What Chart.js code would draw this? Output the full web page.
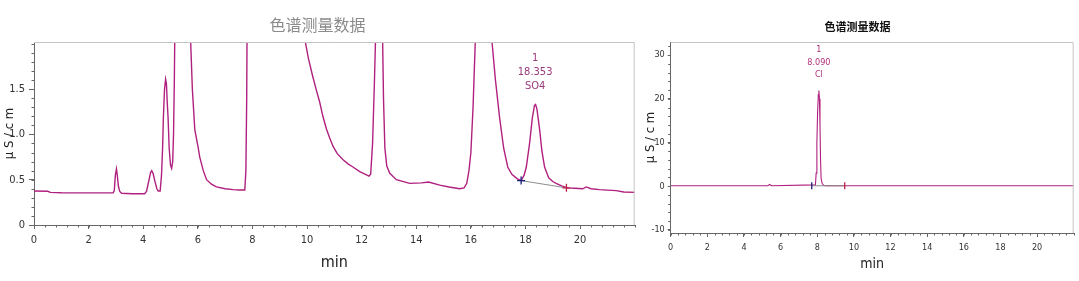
<!DOCTYPE html>
<html>
<head>
<meta charset="utf-8">
<script src="https://cdn.jsdelivr.net/npm/chart.js@4.4.1/dist/chart.umd.min.js"></script>
<style>
  html, body { margin: 0; padding: 0; background: #fff; }
  #wrap { position: relative; width: 1079px; height: 281px; overflow: hidden; }
  canvas { position: absolute; top: 0; }
  #c1 { left: 0; }
  #c2 { left: 640px; }
</style>
</head>
<body>
<div id="wrap">
  <canvas id="c1" width="640" height="281"></canvas>
  <canvas id="c2" width="439" height="281"></canvas>
</div>
<script>
// ---- data ----
const titleText = '色谱测量数据';
const xTicks = [0, 2, 4, 6, 8, 10, 12, 14, 16, 18, 20];

// left chromatogram (SO4 channel)
const leftTimes = [
  0, 0.5, 0.6, 1.0, 2.0, 2.9, 2.94, 2.98, 3.02, 3.05, 3.09, 3.14, 3.21, 3.6,
  4.05, 4.12, 4.2, 4.27, 4.31, 4.36, 4.43, 4.5, 4.55, 4.62, 4.67, 4.71, 4.74,
  4.78, 4.82, 4.85, 4.88, 4.91, 4.95, 5.0, 5.04, 5.08, 5.11, 5.14, 5.17, 5.3,
  5.5, 5.68, 5.74, 5.8, 5.89, 6.01, 6.07, 6.2, 6.32, 6.5, 6.68, 7.0, 7.29, 7.5,
  7.72, 7.76, 7.79, 7.82, 8.5, 9.5, 9.95, 10.05, 10.2, 10.33, 10.46, 10.58,
  10.71, 10.83, 10.95, 11.1, 11.32, 11.5, 11.68, 11.93, 12.1, 12.27, 12.33,
  12.4, 12.47, 12.52, 12.65, 12.76, 12.8, 12.85,
  12.92, 13.03, 13.27, 13.76, 14.2, 14.45, 14.86, 15.2, 15.59, 15.75, 15.85,
  15.93, 16.0, 16.08, 16.17, 16.45, 16.78, 16.9, 17.05, 17.2, 17.35, 17.5,
  17.7, 17.84, 17.95, 18.03, 18.15, 18.25, 18.33, 18.37, 18.42, 18.52, 18.6,
  18.7, 18.85, 19.0, 19.12, 19.35, 19.55, 19.8, 20.1, 20.22, 20.4, 20.71, 21.0,
  21.32, 21.6, 22.0
];
const leftSignal = [
  0.375, 0.372, 0.36, 0.356, 0.355, 0.355, 0.38, 0.55, 0.62, 0.55, 0.43, 0.37, 0.35, 0.345,
  0.345, 0.37, 0.48, 0.58, 0.60, 0.57, 0.48, 0.40, 0.375, 0.375, 0.55, 0.85, 1.2,
  1.5, 1.61, 1.56, 1.35, 1.19, 0.85, 0.66, 0.625, 0.7, 1.0, 1.6, 2.5, 6,
  4, 2.5, 2.0, 1.5, 1.05, 0.86, 0.75, 0.6, 0.5, 0.45, 0.42, 0.4, 0.39, 0.386,
  0.386, 0.6, 1.4, 3, 10, 4, 2.0, 1.84, 1.65, 1.5, 1.36, 1.2,
  1.06, 0.96, 0.87, 0.79, 0.72, 0.675, 0.64, 0.59, 0.565, 0.54, 0.56,
  0.9, 1.6, 2.2, 4, 2.2, 1.4, 0.85,
  0.65, 0.57, 0.5, 0.46, 0.465, 0.475, 0.44, 0.42, 0.4, 0.41, 0.46,
  0.6, 0.8, 1.3, 2.1, 5, 2.0, 1.6, 1.19, 0.85, 0.64, 0.56,
  0.51, 0.49, 0.55, 0.64, 0.9, 1.18, 1.32, 1.33, 1.28, 1.05, 0.82,
  0.64, 0.52, 0.48, 0.46, 0.43, 0.41, 0.405, 0.4, 0.42, 0.4, 0.39, 0.385,
  0.38, 0.365, 0.36
];
const leftYTicks = [0, 0.5, 1, 1.5];
const leftBaseTimes = [17.84, 19.5];
const leftBaseValues = [0.49, 0.41];
const leftPeak = { id: '1', time: '18.353', name: 'SO4', at: 18.353 };

// right chromatogram (Cl channel)
const rightTimes = [
  0, 5.3, 5.4, 5.5, 7.9, 7.94, 7.98, 8.02, 8.06, 8.09, 8.12, 8.15, 8.18, 8.21,
  8.27, 8.35, 8.45, 22
];
const rightSignal = [
  0.1, 0.1, 0.4, 0.1, 0.3, 3, 10, 17, 21, 21.9, 20, 14, 6, 1.8,
  0.6, 0.2, 0.1, 0.1
];
const rightYTicks = [-10, 0, 10, 20, 30];
const rightBaseTimes = [7.7, 9.5];
const rightBaseValues = [0.1, 0.1];
const rightPeak = { id: '1', time: '8.090', name: 'Cl', at: 8.09 };

// ---- helpers ----
const NARROW = "'Liberation Sans Narrow', 'DejaVu Sans Condensed', 'Liberation Sans', sans-serif";
const CJK = "'Noto Sans CJK SC', 'Noto Sans', sans-serif";
const TRACE = '#b0207f';

function zip(xs, ys) {
  return xs.map((x, i) => ({ x: x, y: ys[i] }));
}

// light frame on top/right + minor ticks + peak labels
function decorPlugin(opts) {
  return {
    id: 'decor',
    afterDraw(chart) {
      const { ctx, chartArea: a, scales } = chart;
      const xs = scales.x, ys = scales.y;
      ctx.save();
      ctx.strokeStyle = '#c4c4c4';
      ctx.lineWidth = 1;
      ctx.beginPath();
      ctx.moveTo(a.left, a.top + 0.5);
      ctx.lineTo(a.right - 0.5, a.top + 0.5);
      ctx.lineTo(a.right - 0.5, a.bottom);
      ctx.stroke();

      // minor ticks
      ctx.strokeStyle = '#666';
      ctx.beginPath();
      for (let v = xs.min; v <= xs.max + 1e-6; v += opts.xMinor) {
        const px = Math.round(xs.getPixelForValue(v)) + 0.5;
        ctx.moveTo(px, a.bottom);
        ctx.lineTo(px, a.bottom + 2.5);
      }
      const y0 = Math.ceil(ys.min / opts.yMinor) * opts.yMinor;
      for (let v = y0; v <= ys.max + 1e-6; v += opts.yMinor) {
        const py = Math.round(ys.getPixelForValue(v)) + 0.5;
        ctx.moveTo(a.left, py);
        ctx.lineTo(a.left - 2.5, py);
      }
      ctx.stroke();

      // peak annotation
      const p = opts.peak;
      const px = xs.getPixelForValue(p.at);
      ctx.fillStyle = opts.labelColor;
      ctx.font = opts.labelFont;
      ctx.textAlign = 'center';
      ctx.textBaseline = 'middle';
      [p.id, p.time, p.name].forEach((t, i) => {
        ctx.fillText(t, px, opts.labelTop + i * opts.labelStep);
      });
      ctx.restore();
    }
  };
}

function makeChart(el, cfg) {
  return new Chart(el, {
    type: 'scatter',
    data: {
      datasets: [
        {
          data: cfg.base,
          showLine: true,
          borderColor: '#8c8c8c',
          borderWidth: 1,
          pointStyle: cfg.markStyle,
          rotation: cfg.markRotation,
          pointRadius: cfg.markRadius,
          pointBorderWidth: 1.3,
          pointBorderColor: ['#1c1c7a', '#c02048'],
          pointBackgroundColor: ['#1c1c7a', '#c02048'],
          order: 0
        },
        {
          data: cfg.trace,
          showLine: true,
          borderColor: TRACE,
          borderWidth: cfg.lineWidth,
          pointRadius: 0,
          tension: 0,
          order: 1
        }
      ]
    },
    options: {
      responsive: false,
      animation: false,
      events: [],
      layout: { padding: { left: 0, right: cfg.padRight, top: 0, bottom: 0 } },
      plugins: {
        legend: { display: false },
        tooltip: { enabled: false },
        title: {
          display: true,
          text: titleText,
          color: cfg.titleColor,
          font: cfg.titleFont,
          padding: cfg.titlePad
        }
      },
      scales: {
        x: {
          type: 'linear',
          min: 0,
          max: 22,
          afterBuildTicks: (s) => { s.ticks = xTicks.map(v => ({ value: v })); },
          afterFit: (s) => { s.height = cfg.xHeight; },
          border: { display: true, color: '#666', width: 1 },
          grid: { drawOnChartArea: false, drawTicks: true, tickLength: 4, tickColor: '#666' },
          ticks: { color: '#333', font: cfg.tickFont, padding: cfg.xTickPad, maxRotation: 0, autoSkip: false },
          title: {
            display: true,
            text: 'min',
            color: '#222',
            font: cfg.axisTitleFont,
            padding: { top: 0, bottom: cfg.minPad }
          }
        },
        y: {
          type: 'linear',
          min: cfg.yMin,
          max: cfg.yMax,
          afterBuildTicks: (s) => { s.ticks = cfg.yTicks.map(v => ({ value: v })); },
          afterFit: (s) => { s.width = cfg.yWidth; },
          border: { display: true, color: '#666', width: 1 },
          grid: { drawOnChartArea: false, drawTicks: true, tickLength: cfg.yTickLen, tickColor: '#666' },
          ticks: { color: '#333', font: cfg.tickFont, padding: cfg.yTickPad, autoSkip: false },
          title: {
            display: true,
            text: 'μ S / c m',
            color: '#222',
            font: cfg.yTitleFont,
            padding: { top: cfg.yTitlePad, bottom: 0 }
          }
        }
      }
    },
    plugins: [decorPlugin(cfg.decor)]
  });
}

makeChart(document.getElementById('c1'), {
  trace: zip(leftTimes, leftSignal),
  base: zip(leftBaseTimes, leftBaseValues),
  markStyle: 'cross',
  markRotation: 0,
  markRadius: 4,
  lineWidth: 1.4,
  padRight: 5,
  titleColor: '#8a8a8a',
  titleFont: { family: CJK, size: 16, weight: 'normal' },
  titlePad: { top: 15, bottom: 7.8 },
  xHeight: 56,
  yWidth: 34,
  yMin: 0,
  yMax: 2.02,
  yTicks: leftYTicks,
  yTickLen: 5,
  tickFont: { family: NARROW, size: 11 },
  xTickPad: 5,
  yTickPad: 4,
  axisTitleFont: { family: NARROW, size: 16 },
  minPad: 9,
  yTitleFont: { family: NARROW, size: 13 },
  yTitlePad: 2,
  decor: {
    xMinor: 0.4, yMinor: 0.1, peak: leftPeak,
    labelColor: '#9a3a7a', labelFont: "11px " + NARROW, labelTop: 58, labelStep: 14
  }
});

makeChart(document.getElementById('c2'), {
  trace: zip(rightTimes, rightSignal),
  base: zip(rightBaseTimes, rightBaseValues),
  markStyle: 'line',
  markRotation: 90,
  markRadius: 3.5,
  lineWidth: 1.1,
  padRight: 4,
  titleColor: '#111',
  titleFont: { family: CJK, size: 11, weight: 'bold' },
  titlePad: { top: 20, bottom: 8.8 },
  xHeight: 48,
  yWidth: 30.7,
  yMin: -10.7,
  yMax: 33,
  yTicks: rightYTicks,
  yTickLen: 3,
  tickFont: { family: NARROW, size: 9 },
  xTickPad: 5,
  yTickPad: 3,
  axisTitleFont: { family: NARROW, size: 14 },
  minPad: 8,
  yTitleFont: { family: NARROW, size: 13 },
  yTitlePad: 3,
  decor: {
    xMinor: 0.4, yMinor: 2, peak: rightPeak,
    labelColor: '#b0307a', labelFont: "9px " + NARROW, labelTop: 50, labelStep: 12.5
  }
});
</script>
</body>
</html>
